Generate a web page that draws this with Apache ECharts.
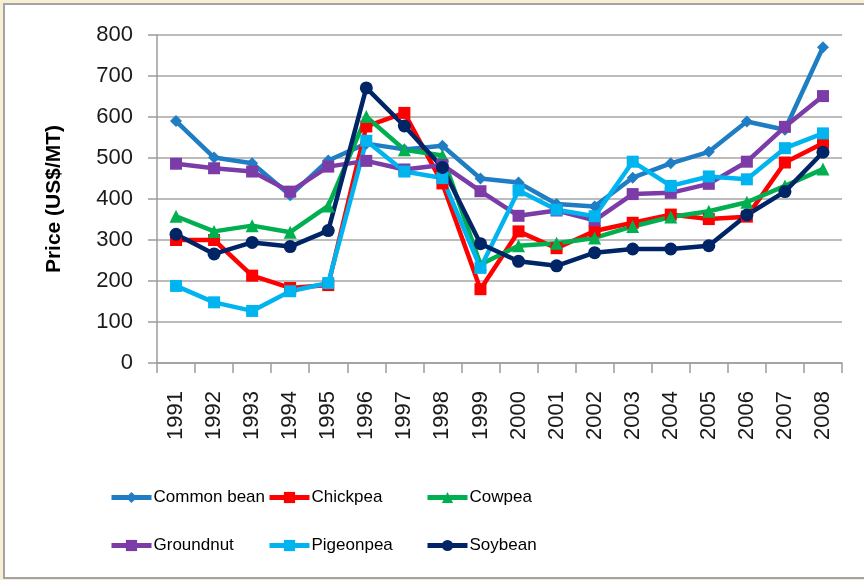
<!DOCTYPE html>
<html>
<head>
<meta charset="utf-8">
<script src="https://cdn.jsdelivr.net/npm/echarts@6/dist/echarts.min.js"></script>
<style>
  html, body { margin: 0; padding: 0; width: 864px; height: 580px; overflow: hidden; background: #f8eed4; }
  #frame { position: absolute; left: 3px; top: 3px; width: 880px; height: 572px; background: #fff; border: 2px solid #a3a3a3; }
  #chart { position: absolute; left: 0; top: 0; width: 864px; height: 580px; }
</style>
</head>
<body>
<div id="frame"></div>
<div id="chart"></div>
<script>
// ------------------------------
// Pulse prices 1991-2008
// ------------------------------
var years = ['1991', '1992', '1993', '1994', '1995', '1996', '1997', '1998', '1999',
             '2000', '2001', '2002', '2003', '2004', '2005', '2006', '2007', '2008'];

var commonBean = [590, 501, 487, 409, 494, 535, 521, 530, 450, 440, 388, 382, 452, 487, 515, 589, 569, 770];
var chickpea   = [300, 300, 213, 183, 190, 577, 610, 438, 180, 321, 280, 322, 342, 362, 351, 357, 489, 536];
var cowpea     = [358, 321, 335, 319, 383, 601, 520, 506, 240, 286, 292, 305, 333, 356, 370, 392, 432, 473];
var groundnut  = [486, 475, 467, 418, 479, 493, 472, 483, 419, 359, 372, 348, 412, 415, 437, 491, 576, 651];
var pigeonpea  = [188, 148, 127, 175, 195, 542, 467, 451, 232, 421, 374, 358, 491, 432, 455, 448, 524, 560];
var soybean    = [314, 266, 294, 284, 323, 671, 578, 477, 291, 248, 237, 269, 278, 278, 286, 361, 418, 514];

var yTicks = { min: 0, max: 800, step: 100 };

var myChart = echarts.init(document.getElementById('chart'));

var tickFont = 'Liberation Sans';

function legendAt(name, left, top) {
    return {
        data: [name],
        left: left,
        top: top,
        itemWidth: 40,
        itemHeight: 14,
        itemGap: 0,
        selectedMode: false,
        lineStyle: { width: 5 },
        textStyle: { fontFamily: tickFont, fontSize: 17, color: '#000', padding: [0, 0, 0, -3] }
    };
}

function lineSeries(name, data, color, symbol, size) {
    return {
        name: name,
        type: 'line',
        data: data,
        symbol: symbol,
        symbolSize: size,
        color: color,
        lineStyle: { width: 4.5, color: color },
        itemStyle: { color: color },
        emphasis: { disabled: true }
    };
}

var option = {
    animation: false,
    grid: { left: 157, right: 22, top: 35, bottom: 217 },
    legend: [
        legendAt('Common bean', 104, 484),
        legendAt('Chickpea', 262, 484),
        legendAt('Cowpea', 420, 484),
        legendAt('Groundnut', 104, 532),
        legendAt('Pigeonpea', 262, 532),
        legendAt('Soybean', 420, 532)
    ],
    xAxis: {
        type: 'category',
        data: years,
        boundaryGap: true,
        axisLine: { lineStyle: { color: '#9c9c9c', width: 1.5 } },
        axisTick: { show: true, interval: 0, length: 10, lineStyle: { color: '#9c9c9c', width: 1.5 } },
        axisLabel: { rotate: 90, interval: 0, margin: 28, fontFamily: tickFont, fontSize: 22, color: '#1a1a1a' }
    },
    yAxis: {
        type: 'value',
        min: yTicks.min,
        max: yTicks.max,
        interval: yTicks.step,
        name: 'Price (US$/MT)',
        nameLocation: 'middle',
        nameGap: 92,
        nameTextStyle: { fontFamily: tickFont, fontSize: 21, fontWeight: 'bold', color: '#000' },
        axisLine: { show: true, lineStyle: { color: '#9c9c9c', width: 1.5 } },
        axisTick: { show: true, length: 9, lineStyle: { color: '#9c9c9c', width: 1.5 } },
        axisLabel: { margin: 24, fontFamily: tickFont, fontSize: 22, color: '#1a1a1a' },
        splitLine: { lineStyle: { color: '#a6a6a6', width: 1.5 } }
    },
    series: [
        lineSeries('Common bean', commonBean, '#1f7dc4', 'diamond', 12),
        lineSeries('Chickpea', chickpea, '#ff0000', 'rect', 12),
        lineSeries('Cowpea', cowpea, '#00b050', 'triangle', 13),
        lineSeries('Groundnut', groundnut, '#7b3ca8', 'rect', 12),
        lineSeries('Pigeonpea', pigeonpea, '#00b4f0', 'rect', 12),
        lineSeries('Soybean', soybean, '#002566', 'circle', 13)
    ]
};

myChart.setOption(option);
</script>
</body>
</html>
